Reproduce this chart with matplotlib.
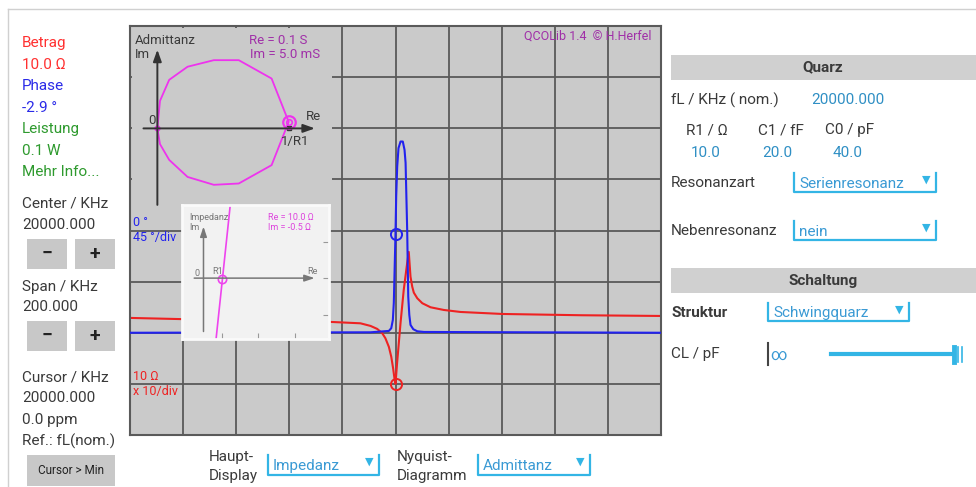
import numpy as np
import matplotlib
matplotlib.use('Agg')
import matplotlib.pyplot as plt
from matplotlib.patches import Rectangle
from matplotlib.lines import Line2D

plt.rcParams['font.family'] = ['Roboto', 'DejaVu Sans']

# main display: |Z| in Ohm and phase in degrees vs. frequency in kHz
center_khz = 20000.0
span_khz = 200.0
mag_f = [19900, 19925, 19950, 19975.5, 19986.8, 19990.6, 19993.1, 19995.0, 19996.2, 19997.5,
         19998.4, 19999.1, 19999.6, 20000, 20000.6, 20001.9, 20003.1, 20004.4, 20005.0, 20005.65,
         20006.3, 20006.9, 20008.2, 20010.1, 20013.2, 20018.2, 20024.5, 20040.3, 20070, 20100]
mag_ohm = [195, 182, 172, 163, 153, 136, 119, 98, 78, 53,
           34, 20.2, 12.9, 10.0, 25.6, 156, 688, 2320, 3810, 1253,
           798, 609, 473, 378, 315, 279, 255, 233, 220, 213]
ph_f = [19900, 19990.6, 19997.5, 19998.4, 19999.0, 19999.36, 20000, 20000.26, 20000.64, 20001.13,
        20001.9, 20002.75, 20003.4, 20003.8, 20004.1, 20004.4, 20004.8, 20005.2, 20005.65, 20006.7,
        20008.2, 20010.7, 20100]
ph_deg = [-90, -89.6, -88.4, -86.0, -78.7, -63.8, -2.9, 29.9, 56.3, 72.5,
          78.3, 78.3, 71.0, 59.5, 29.9, 0.5, -58.2, -74.3, -83.1, -86.9,
          -88.7, -89.3, -90]
cursor_f = 20000.0
cursor_mag = 10.0
cursor_ph = -2.9

# Nyquist diagram (admittance, S)
adm_re = [0.000, 0.002, 0.009, 0.023, 0.043, 0.062, 0.087, 0.100,
          0.087, 0.062, 0.043, 0.023, 0.009, 0.002, 0.000]
adm_im = [0.000, 0.021, 0.037, 0.047, 0.052, 0.052, 0.038, 0.005,
          -0.028, -0.042, -0.043, -0.037, -0.024, -0.012, 0.000]
adm_cursor = (0.1, 0.005)

# small impedance diagram (Ohm)
imp_re = [6.9, 14.6]
imp_im = [-33.3, 39.1]
imp_cursor = (10.0, -0.5)

W, H = 976, 487
fig = plt.figure(figsize=(W / 100, H / 100), dpi=100)
fig.patch.set_facecolor('white')


def fx(x):
    return x / W


def fy(y):
    return 1 - y / H


def box(x0, y0, x1, y1):
    return [x0 / W, 1 - y1 / H, (x1 - x0) / W, (y1 - y0) / H]


def txt(x, y, s, color='#3a3a3a', size=11, **kw):
    fig.text(fx(x), fy(y), s, color=color, fontsize=size, va='center', zorder=10, **kw)


def rect(x0, y0, x1, y1, color):
    fig.add_artist(Rectangle((fx(x0), fy(y1)), (x1 - x0) / W, (y1 - y0) / H,
                             facecolor=color, edgecolor='none'))


def line(xs, ys, color, lw=1.5):
    fig.add_artist(Line2D([fx(v) for v in xs], [fy(v) for v in ys], color=color, lw=lw))


def dropdown(x0, y0, x1, y1, label):
    c = '#33b5e5'
    line([x0, x0, x1, x1], [y0, y1, y1, y0], c, 1.6)
    txt(x0 + 5, (y0 + y1) / 2 + 1, label, color='#3a9ad4')
    txt(x1 - 10, y0 + 7, '\u25bc', color=c, size=8, ha='center', family='DejaVu Sans')


def button(x0, y0, x1, y1, label, size=14, weight='bold'):
    rect(x0, y0, x1, y1, '#c8c8c8')
    txt((x0 + x1) / 2, (y0 + y1) / 2, label, color='#222222', size=size, ha='center', weight=weight)


# outer frame
line([8, 976], [9, 9], '#d0d0d0', 1)
line([8, 8], [9, 487], '#d0d0d0', 1)

GRID = '#5a5a5a'
BG = '#cacaca'
RED = '#ee2222'
BLUE = '#2222ee'

# ---- main display ----
ax = fig.add_axes(box(130, 26, 661, 435), zorder=1)
ax.set_facecolor(BG)
ax.set_xlim(center_khz - span_khz / 2, center_khz + span_khz / 2)
ax.set_yscale('log')
ax.set_ylim(1, 1e8)
ax.set_xticks(np.linspace(center_khz - span_khz / 2, center_khz + span_khz / 2, 11))
ax.set_yticks([10 ** k for k in range(9)])
ax.yaxis.set_minor_locator(plt.NullLocator())
ax.tick_params(which='both', length=0, labelbottom=False, labelleft=False)
ax.grid(True, color=GRID, lw=1.3)
for s in ax.spines.values():
    s.set_color(GRID)
    s.set_linewidth(1.5)
ax.plot(mag_f, mag_ohm, color=RED, lw=1.5)
ax.plot([cursor_f], [cursor_mag], 'o', mfc='none', mec=RED, ms=8, mew=1.4)

axp = ax.twinx()
axp.set_zorder(2)
axp.set_ylim(-180, 180)
axp.set_yticks([])
for s in axp.spines.values():
    s.set_visible(False)
axp.plot(ph_f, ph_deg, color=BLUE, lw=1.5)
axp.plot([cursor_f], [cursor_ph], 'o', mfc='none', mec=BLUE, ms=8, mew=1.4)

txt(133, 222, '0 °', color=BLUE, size=9)
txt(133, 237, '45 °/div', color=BLUE, size=9)
txt(133, 377, '10 Ω', color=RED, size=9)
txt(133, 392, 'x 10/div', color=RED, size=9)
txt(652, 36, 'QCOLib 1.4  © H.Herfel', color='#a030a8', size=9, ha='right')

# ---- admittance (Nyquist) inset ----
axa = fig.add_axes(box(131.5, 27.5, 332, 210), zorder=3)
axa.set_facecolor(BG)
axa.set_xlim(-0.0197, 0.133)
axa.set_ylim(-0.0622, 0.0769)
axa.set_xticks([])
axa.set_yticks([])
for s in axa.spines.values():
    s.set_visible(False)
arr = dict(arrowstyle='-|>,head_length=0.7,head_width=0.25', color='#333333', lw=1.4,
           shrinkA=0, shrinkB=0)
axa.annotate('', xy=(0.120, 0), xytext=(-0.0106, 0), arrowprops=arr)
axa.annotate('', xy=(0, 0.060), xytext=(0, -0.0583), arrowprops=arr)
axa.plot(adm_re, adm_im, color='#ee33ee', lw=1.3)
axa.plot([0], [0], 'o', color='#ee33ee', ms=3.5)
axa.plot([0.1], [0], 's', color='#333333', ms=3.5)
axa.plot([adm_cursor[0]], [adm_cursor[1]], 'o', mfc='none', mec='#ee33ee', ms=9, mew=1.6)
axa.plot([adm_cursor[0]], [adm_cursor[1]], 'o', mfc='none', mec='#ee33ee', ms=4, mew=1.2)
txt(135, 41, 'Admittanz', size=9.5)
txt(135, 54, 'Im', size=9.5)
txt(249, 41, 'Re = 0.1 S', color='#a030a8', size=9.5)
txt(250, 54, 'Im = 5.0 mS', color='#a030a8', size=9.5)
txt(148, 121, '0', size=9.5)
txt(306, 117, 'Re', size=9.5)
txt(281, 141, '1/R1', size=9.5)

# ---- impedance inset ----
axi = fig.add_axes(box(182, 205, 329, 339), zorder=4)
axi.set_facecolor('#f2f2f2')
for s in axi.spines.values():
    s.set_color('#fafafa')
    s.set_linewidth(2)
axi.set_xlim(-11.8, 68.9)
axi.set_ylim(-33.3, 40)
axi.yaxis.tick_right()
axi.set_yticks([-20, 0, 20])
axi.set_xticks([10, 30, 50])
axi.tick_params(direction='in', length=4, color='#999999', labelright=False, labelbottom=False)
arr2 = dict(arrowstyle='-|>,head_length=0.6,head_width=0.2', color='#777777', lw=1.1,
            shrinkA=0, shrinkB=0)
axi.annotate('', xy=(61, 0), xytext=(-5.1, 0), arrowprops=arr2)
axi.annotate('', xy=(0, 28.2), xytext=(0, -29.2), arrowprops=arr2)
axi.plot(imp_re, imp_im, color='#ee44ee', lw=1.2)
axi.plot([imp_cursor[0]], [imp_cursor[1]], 'o', mfc='none', mec='#ee44ee', ms=6, mew=1.2)
txt(189, 218, 'Impedanz', color='#777777', size=6.5)
txt(189, 228, 'Im', color='#777777', size=6.5)
txt(197, 273, '0', color='#777777', size=6.5, ha='center')
txt(212, 272, 'R1', color='#777777', size=6.5)
txt(307, 271, 'Re', color='#777777', size=6.5)
txt(268, 217, 'Re = 10.0 Ω', color='#dd44dd', size=6.5)
txt(268, 227, 'Im = -0.5 Ω', color='#dd44dd', size=6.5)

# ---- left panel ----
txt(22, 43, 'Betrag', color='#ff3030')
txt(22, 65, '10.0 Ω', color='#ff3030')
txt(22, 86, 'Phase', color='#2a2ae8')
txt(22, 108, '-2.9 °', color='#2a2ae8')
txt(22, 129, 'Leistung', color='#2e9a2e')
txt(22, 151, '0.1 W', color='#2e9a2e')
txt(22, 172, 'Mehr Info...', color='#2e9a2e')
txt(22, 204, 'Center / KHz')
txt(22, 225, '20000.000')
button(27, 239, 67, 269, '\u2212')
button(75, 239, 115, 269, '+')
txt(22, 287, 'Span / KHz')
txt(22, 307, '200.000')
button(27, 321, 67, 351, '\u2212')
button(75, 321, 115, 351, '+')
txt(22, 377, 'Cursor / KHz')
txt(22, 398, '20000.000')
txt(22, 420, '0.0 ppm')
txt(22, 441, 'Ref.: fL(nom.)')
button(27, 455, 115, 486, 'Cursor > Min', size=8.5, weight='normal')

# ---- right panel ----
VAL = '#2f8fc4'
rect(671, 55, 976, 80, '#d0d0d0')
txt(823, 67, 'Quarz', ha='center', weight='bold', size=11)
txt(671, 100, 'fL / KHz ( nom.)')
txt(811, 100, '20000.000', color=VAL)
txt(686, 130, 'R1 / Ω')
txt(758, 130, 'C1 / fF')
txt(825, 130, 'C0 / pF')
txt(691, 153, '10.0', color=VAL)
txt(762, 153, '20.0', color=VAL)
txt(833, 153, '40.0', color=VAL)
txt(671, 183, 'Resonanzart')
dropdown(794, 173, 936, 192, 'Serienresonanz')
txt(671, 231, 'Nebenresonanz')
dropdown(794, 221, 936, 240, 'nein')

rect(671, 268, 976, 293, '#d0d0d0')
txt(823, 281, 'Schaltung', ha='center', weight='bold', size=11)
txt(671, 313, 'Struktur', weight='bold')
dropdown(768, 303, 909, 321, 'Schwingquarz')
txt(671, 354, 'CL / pF')
line([768, 768], [343, 365], '#444444', 1.5)
txt(770, 355, '\u221e', color='#3a9ad4', size=11.5)
line([831, 953], [354, 354], '#33b5e5', 3)
line([954, 954], [347, 362], '#33b5e5', 3.5)
line([958, 958], [347, 362], '#33b5e5', 1.2)
line([961.5, 961.5], [347, 362], '#33b5e5', 1.2)

# ---- bottom selectors ----
txt(209, 457, 'Haupt-')
txt(209, 476, 'Display')
dropdown(268, 455, 379, 475, 'Impedanz')
txt(397, 457, 'Nyquist-')
txt(397, 476, 'Diagramm')
dropdown(478, 455, 590, 475, 'Admittanz')

fig.savefig('out.png', dpi=100)
